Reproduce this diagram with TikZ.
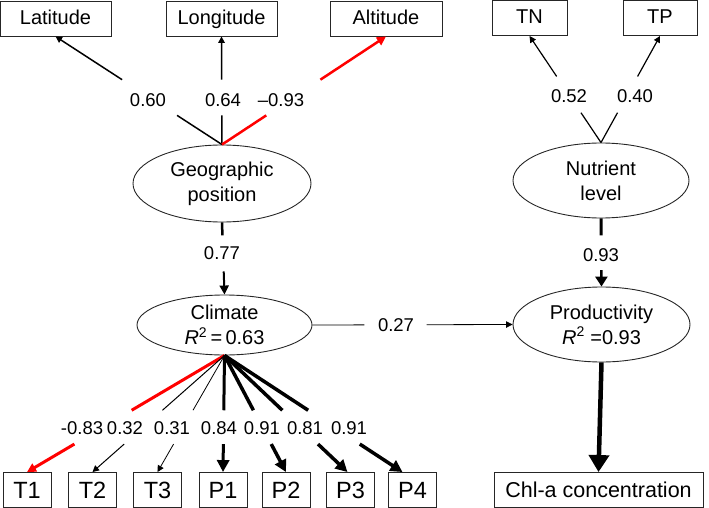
\documentclass[tikz,border=0pt]{standalone}
\usepackage{fontspec}
\setmainfont{Liberation Sans}
\usetikzlibrary{calc,arrows.meta,shapes.geometric}
\begin{document}
\begin{tikzpicture}[x=1pt,y=-1pt,
  box/.style={draw=black!85,line width=0.9pt,inner sep=0pt,minimum height=35pt,font=\fontsize{20}{24}\selectfont,text height=14.3pt,text depth=2.4pt},
  sbox/.style={box,minimum width=48pt,font=\fontsize{23.5}{26}\selectfont,text height=16.8pt,text depth=0pt},
  lv/.style={draw=black!85,ellipse,line width=0.9pt,inner sep=0pt,align=center,font=\fontsize{20}{25}\selectfont},
  coef/.style={font=\fontsize{18.5}{20}\selectfont,inner sep=0pt},
  redl/.style={draw=red,color=red},
  tipS/.style={-{Triangle[length=6.5pt,width=6.5pt]}},
  tipM/.style={-{Triangle[length=9pt,width=9pt]}},
  tipL/.style={-{Triangle[length=12pt,width=12pt]}},
  tipXL/.style={-{Triangle[length=17pt,width=20pt]}}
]
\useasboundingbox (0,0) rectangle (709,508);

% top boxes
\node[box,minimum width=111pt] (lat) at (55.5,18.5) {Latitude};
\node[box,minimum width=111pt] (lon) at (221.5,18.5) {Longitude};
\node[box,minimum width=112pt] (alt) at (386,18.5) {Altitude};
\node[box,minimum width=75pt] (tn) at (529.5,18) {TN};
\node[box,minimum width=74pt] (tp) at (660,18) {TP};

% latent variables
\node[lv,minimum width=178pt,minimum height=77pt] (geo) at (222,183.5) {Geographic\\position};
\node[lv,minimum width=176pt,minimum height=75pt] (nut) at (601,180.5) {Nutrient\\level};
\node[lv,inner sep=-4pt,minimum width=175pt,minimum height=60pt] (clim) at (224.5,325) {Climate\\\textit{R}\textsuperscript{2}\,=\,0.63};
\node[lv,minimum width=177pt,minimum height=75pt] (prod) at (601.5,324.5) {Productivity\\\textit{R}\textsuperscript{2} =0.93};

% bottom boxes
\node[sbox] (t1) at (27,490) {T1};
\node[sbox] (t2) at (92.5,490) {T2};
\node[sbox] (t3) at (157.5,490) {T3};
\node[sbox] (p1) at (223,490) {P1};
\node[sbox] (p2) at (286,490) {P2};
\node[sbox] (p3) at (350.5,490) {P3};
\node[sbox] (p4) at (412.5,490) {P4};
\node[box,minimum width=209pt,font=\fontsize{21.5}{24}\selectfont,text height=15.4pt,text depth=0pt] (chl) at (598.5,490) {Chl-a concentration};

% coefficients
\node[coef] (c60) at (148,100) {0.60};
\node[coef] (c64) at (223,100) {0.64};
\node[coef] (c93a) at (281,100) {–0.93};
\node[coef] (c52) at (569,96) {0.52};
\node[coef] (c40) at (635,96) {0.40};
\node[coef] (c77) at (222,253) {0.77};
\node[coef] (c93b) at (601,255) {0.93};
\node[coef] (c27) at (396,325) {0.27};
\node[coef] (k1) at (82,428) {-0.83};
\node[coef] (k2) at (125,428) {0.32};
\node[coef] (k3) at (172,428) {0.31};
\node[coef] (k4) at (219,428) {0.84};
\node[coef] (k5) at (262,428) {0.91};
\node[coef] (k6) at (305,428) {0.81};
\node[coef] (k7) at (349,428) {0.91};

% geographic position indicators
\draw[line width=1.5pt] (geo.north) -- ($(geo.north)!0.27!(lat.south)$);
\draw[line width=1.5pt,tipS] ($(geo.north)!0.6!(lat.south)$) -- (lat.south);
\draw[line width=1.5pt] (geo.north) -- ($(geo.north)!0.27!(lon.south)$);
\draw[line width=1.5pt,tipS] ($(geo.north)!0.6!(lon.south)$) -- (lon.south);
\draw[redl,line width=2.5pt] (geo.north) -- ($(geo.north)!0.27!(alt.south)$);
\draw[redl,line width=2.5pt,tipM] ($(geo.north)!0.6!(alt.south)$) -- (alt.south);

% nutrient indicators
\draw[line width=1.2pt] (nut.north) -- ($(nut.north)!0.28!(tn.south)$);
\draw[line width=1.2pt,tipS] ($(nut.north)!0.62!(tn.south)$) -- (tn.south);
\draw[line width=1.2pt] (nut.north) -- ($(nut.north)!0.28!(tp.south)$);
\draw[line width=1.2pt,tipS] ($(nut.north)!0.62!(tp.south)$) -- (tp.south);

% structural paths
\draw[line width=2.5pt] (geo.south) -- ($(geo.south)!0.18!(clim.north)$);
\draw[line width=2pt,tipM] ($(geo.south)!0.68!(clim.north)$) -- (clim.north);
\draw[line width=3pt] (nut.south) -- ($(nut.south)!0.25!(prod.north)$);
\draw[line width=2.5pt,-{Triangle[length=10pt,width=12pt]}] ($(nut.south)!0.76!(prod.north)$) -- (prod.north);
\draw[line width=0.8pt] (clim.east) -- ($(clim.east)!0.26!(prod.west)$);
\draw[line width=0.8pt,tipS] ($(clim.east)!0.57!(prod.west)$) -- (prod.west);
\draw[line width=4.5pt,tipXL] (prod.south) -- (chl.north);

% climate indicators
\coordinate (e1) at (t1.north);
\coordinate (e2) at (t2.north);
\coordinate (e3) at (t3.north);
\coordinate (e4) at (p1.north);
\coordinate (e5) at (p2.north);
\coordinate (e6) at ($(p3.north)+(-3,0)$);
\coordinate (e7) at ($(p4.north)+(-10,0)$);
\draw[redl,line width=3pt] (clim.south) -- ($(clim.south)!0.47!(e1)$);
\draw[redl,line width=3pt,tipM] ($(clim.south)!0.76!(e1)$) -- (e1);
\draw[line width=1pt] (clim.south) -- ($(clim.south)!0.47!(e2)$);
\draw[line width=1pt,tipS] ($(clim.south)!0.76!(e2)$) -- (e2);
\draw[line width=0.8pt] (clim.south) -- ($(clim.south)!0.47!(e3)$);
\draw[line width=0.8pt,tipS] ($(clim.south)!0.76!(e3)$) -- (e3);
\draw[line width=3pt] (clim.south) -- ($(clim.south)!0.47!(e4)$);
\draw[line width=3pt,tipL] ($(clim.south)!0.76!(e4)$) -- (e4);
\draw[line width=3.5pt] (clim.south) -- ($(clim.south)!0.47!(e5)$);
\draw[line width=3.5pt,tipL] ($(clim.south)!0.76!(e5)$) -- (e5);
\draw[line width=3.5pt] (clim.south) -- ($(clim.south)!0.47!(e6)$);
\draw[line width=3.5pt,tipL] ($(clim.south)!0.76!(e6)$) -- (e6);
\draw[line width=3.5pt] (clim.south) -- ($(clim.south)!0.47!(e7)$);
\draw[line width=3.5pt,tipL] ($(clim.south)!0.76!(e7)$) -- (e7);
\end{tikzpicture}
\end{document}
